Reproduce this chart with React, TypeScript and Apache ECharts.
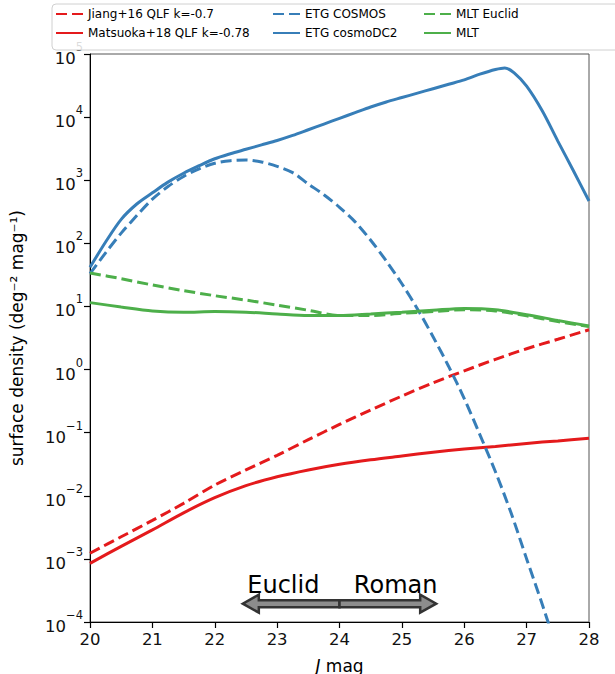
import React, { useEffect, useRef } from "react";
import * as echarts from "echarts";

// J magnitude grids
const magGrid = [20, 20.5, 21, 21.5, 22, 22.5, 23, 23.5, 24, 24.5, 25, 25.5, 26, 26.5, 27, 27.5, 28];
const fineMag = [
  20, 20.25, 20.5, 20.75, 21, 21.25, 21.5, 21.75, 22, 22.25, 22.5, 22.75, 23, 23.25, 23.5, 23.75,
  24, 24.25, 24.5, 24.75, 25, 25.25, 25.5, 25.75, 26, 26.25, 26.5, 26.75, 27, 27.25, 27.5, 27.75, 28,
];
const dc2Mag = [
  20, 20.25, 20.5, 20.75, 21, 21.25, 21.5, 21.75, 22, 22.25, 22.5, 22.75, 23, 23.25, 23.5, 23.75,
  24, 24.25, 24.5, 24.75, 25, 25.25, 25.5, 25.75, 26, 26.25, 26.5, 26.65, 26.8, 27, 27.25, 27.5, 27.75, 28,
];

const jiang16 = [1.23e-3, 2.24e-3, 4.07e-3, 7.59e-3, 0.0148, 0.0257, 0.0437, 0.0776, 0.135, 0.229, 0.38, 0.617, 0.955, 1.45, 2.14, 3.02, 4.27];
const matsuoka18 = [8.5e-4, 1.58e-3, 2.88e-3, 5.37e-3, 9.33e-3, 0.0145, 0.02, 0.0257, 0.0316, 0.0372, 0.0427, 0.049, 0.055, 0.0603, 0.0676, 0.0741, 0.0813];

const mltEuclid = [33.9, 27.5, 21.9, 17.8, 14.8, 12.6, 10.5, 8.7, 7.2, 7.2, 7.8, 8.3, 8.9, 8.5, 7.1, 5.75, 4.8];
const mlt = [11.5, 9.8, 8.5, 8.1, 8.3, 8.1, 7.6, 7.2, 7.2, 7.6, 8.1, 8.7, 9.3, 8.9, 7.4, 6.0, 4.9];

const etgCosmos = [
  33.1, 70.8, 145, 275, 501, 794, 1148, 1514, 1862, 2042, 2089, 1950, 1660, 1318, 871, 589,
  372, 219, 112, 52.5, 22.9, 9.12, 3.31, 1.12, 0.347, 0.0933, 0.024, 5.37e-3, 1.0e-3, 1.91e-4, 3.3e-5,
];
const etgCosmoDC2 = [
  41.7, 105, 240, 420, 631, 933, 1288, 1698, 2188, 2630, 3090, 3631, 4266, 5129, 6310, 7762,
  9550, 11750, 14450, 17380, 20420, 23990, 28180, 33110, 38900, 47860, 56900, 60260, 50100, 30900, 12590, 4169, 1413, 468,
];

const xTicks = [20, 21, 22, 23, 24, 25, 26, 27, 28];

// Arrow annotation (data units)
const arrowStart = 22.45;
const arrowEnd = 25.55;
const arrowMid = 24;
const arrowLevel = 1.95e-4;
const arrowLabels = ["Euclid", "Roman"];
const arrowLabelMag = [23.1, 24.9];
const arrowLabelLevel = 3.8e-4;

const RED = "#e41a1c";
const BLUE = "#377eb8";
const GREEN = "#4daf4a";
const FONT = "DejaVu Sans";

const pairs = (xs: number[], ys: number[]) => ys.map((y, i) => [xs[i], y]);

export default function App() {
  const ref = useRef<HTMLDivElement>(null);
  useEffect(() => {
    const chart = echarts.init(ref.current!, null, { renderer: "svg" });
    const line = (name: string, xs: number[], ys: number[], color: string, dashed: boolean) => ({
      name,
      type: "line",
      data: pairs(xs, ys),
      smooth: 0.3,
      symbol: "none",
      showSymbol: false,
      clip: true,
      lineStyle: { color, width: 3, type: dashed ? [11, 5] : "solid" },
      itemStyle: { color },
      z: 3,
    });
    const legendBase = {
      orient: "vertical",
      top: 8,
      padding: 0,
      itemWidth: 27,
      itemHeight: 14,
      itemGap: 7,
      z: 20,
      itemStyle: { opacity: 0 },
      textStyle: { fontFamily: FONT, fontSize: 12, color: "#000" },
      selectedMode: false,
    };
    const supFmt = (v: number) => {
      const e = Math.round(Math.log10(v));
      const s = e < 0 ? "\u2212" + -e : String(e);
      return "{b|10}{s|" + s + "}";
    };
    chart.setOption({
      animation: false,
      backgroundColor: "#fff",
      grid: {
        left: 90, right: 26, top: 54, bottom: 52,
        containLabel: false, outerBoundsMode: "none",
        show: true, borderColor: "#555", borderWidth: 1, backgroundColor: "transparent",
      },
      legend: [
        { ...legendBase, left: 55, data: ["Jiang+16 QLF k=-0.7", "Matsuoka+18 QLF k=-0.78"] },
        { ...legendBase, left: 272, data: ["ETG COSMOS", "ETG cosmoDC2"] },
        { ...legendBase, left: 423, data: ["MLT Euclid", "MLT"] },
      ],
      graphic: [
        {
          type: "rect",
          z: 15,
          shape: { x: 52, y: 4, width: 600, height: 46, r: 4 },
          style: { fill: "rgba(255,255,255,0.85)", stroke: "#d0d0d0", lineWidth: 1 },
        },
      ],
      xAxis: {
        type: "value",
        min: 20,
        max: 28,
        interval: 1,
        name: "{i|J} mag",
        nameLocation: "middle",
        nameGap: 35,
        nameTextStyle: { fontFamily: FONT, fontSize: 17, color: "#000", rich: { i: { fontFamily: FONT, fontSize: 17, fontStyle: "italic" } } },
        axisLine: { show: true, lineStyle: { color: "#000", width: 1 } },
        axisTick: { show: true, length: 6, lineStyle: { color: "#000", width: 1.2 }, customValues: xTicks },
        axisLabel: { fontFamily: FONT, fontSize: 16.5, color: "#111", margin: 9, customValues: xTicks },
        splitLine: { show: false },
      },
      yAxis: {
        type: "log",
        logBase: 10,
        min: 1e-4,
        max: 1e5,
        interval: 1,
        name: "surface density (deg\u207B\u00B2 mag\u207B\u00B9)",
        nameLocation: "middle",
        nameGap: 65,
        nameTextStyle: { fontFamily: FONT, fontSize: 17, color: "#000" },
        axisLine: { show: true, lineStyle: { color: "#000", width: 1 } },
        axisTick: { show: true, length: 6, lineStyle: { color: "#000", width: 1.2 } },
        minorTick: { show: false },
        axisLabel: {
          margin: 7,
          formatter: supFmt,
          rich: {
            b: { fontFamily: FONT, fontSize: 16.5, color: "#111", lineHeight: 26, verticalAlign: "bottom" },
            s: { fontFamily: FONT, fontSize: 11.5, color: "#111", lineHeight: 12, verticalAlign: "top" },
          },
        },
        splitLine: { show: false },
      },
      series: [
        line("Jiang+16 QLF k=-0.7", magGrid, jiang16, RED, true),
        line("Matsuoka+18 QLF k=-0.78", magGrid, matsuoka18, RED, false),
        line("ETG COSMOS", fineMag, etgCosmos, BLUE, true),
        line("ETG cosmoDC2", dc2Mag, etgCosmoDC2, BLUE, false),
        line("MLT Euclid", magGrid, mltEuclid, GREEN, true),
        line("MLT", magGrid, mlt, GREEN, false),
        {
          type: "custom",
          coordinateSystem: "cartesian2d",
          z: 5,
          clip: false,
          encode: { x: [0, 1, 2], y: 3 },
          data: [[arrowStart, arrowEnd, arrowMid, arrowLevel]],
          renderItem: (_p: any, api: any) => {
            const lvl = api.value(3);
            const a = api.coord([api.value(0), lvl]);
            const b = api.coord([api.value(1), lvl]);
            const m = api.coord([api.value(2), lvl]);
            const y = a[1];
            const h = 3.5, H = 9, L = 16;
            const style = { fill: "#8c8c8c", stroke: "#333", lineWidth: 2.5, lineJoin: "miter" };
            const left = [
              [m[0], y - h], [a[0] + L, y - h], [a[0] + L, y - H], [a[0], y],
              [a[0] + L, y + H], [a[0] + L, y + h], [m[0], y + h],
            ];
            const right = [
              [m[0], y - h], [b[0] - L, y - h], [b[0] - L, y - H], [b[0], y],
              [b[0] - L, y + H], [b[0] - L, y + h], [m[0], y + h],
            ];
            const texts = arrowLabels.map((t, i) => {
              const p = api.coord([arrowLabelMag[i], arrowLabelLevel]);
              return {
                type: "text",
                x: p[0],
                y: p[1],
                style: { text: t, fontFamily: FONT, fontSize: 24, fill: "#000", align: "center", verticalAlign: "middle" },
              };
            });
            return {
              type: "group",
              children: [
                { type: "polygon", shape: { points: left }, style },
                { type: "polygon", shape: { points: right }, style },
                ...texts,
              ],
            };
          },
        },
      ],
    });
    return () => chart.dispose();
  }, []);
  return <div ref={ref} style={{ position: "fixed", left: 0, top: 0, width: 615, height: 674 }} />;
}
